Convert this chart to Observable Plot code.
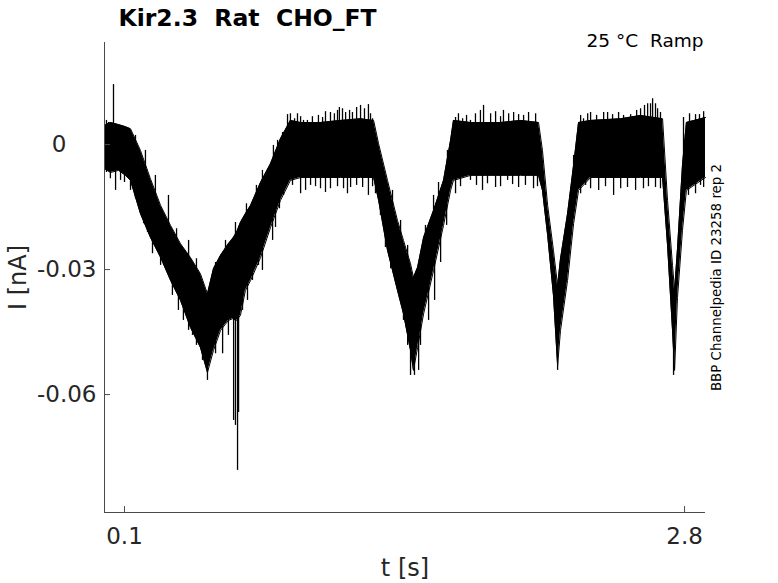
<!DOCTYPE html>
<html>
<head>
<meta charset="utf-8">
<script src="https://cdn.jsdelivr.net/npm/d3@7"></script>
<script src="https://cdn.jsdelivr.net/npm/@observablehq/plot@0.6"></script>
<style>
  html, body { margin: 0; padding: 0; background: #fff; }
  svg text { white-space: pre; }
</style>
</head>
<body>
<div id="chart"></div>
<script>
// ---- data (t in s, I in nA) ----
const bandT = [0.004,0.032,0.071,0.105,0.129,0.177,0.225,0.274,0.322,0.370,0.418,0.466,0.500,0.529,0.563,0.601,0.621,0.640,0.659,0.683,0.708,0.756,0.804,0.852,0.900,0.949,1.045,1.141,1.238,1.301,1.325,1.368,1.416,1.445,1.479,1.493,1.513,1.542,1.590,1.638,1.672,1.686,1.768,1.913,2.009,2.096,2.115,2.140,2.168,2.188,2.202,2.236,2.265,2.289,2.347,2.492,2.588,2.694,2.718,2.742,2.752,2.766,2.790,2.809,2.901];
const bandHi = [0.0046,0.0053,0.0048,0.0043,0.0038,-0.0014,-0.0082,-0.0146,-0.0194,-0.0238,-0.0271,-0.0310,-0.0358,-0.0298,-0.0266,-0.0238,-0.0226,-0.0211,-0.0187,-0.0166,-0.0146,-0.0091,-0.0046,0.0014,0.0058,0.0053,0.0053,0.0058,0.0062,0.0058,0.0002,-0.0086,-0.0182,-0.0230,-0.0286,-0.0319,-0.0295,-0.0223,-0.0158,-0.0086,0.0010,0.0058,0.0053,0.0053,0.0058,0.0053,-0.0014,-0.0146,-0.0254,-0.0338,-0.0274,-0.0166,-0.0050,0.0053,0.0058,0.0062,0.0070,0.0062,-0.0134,-0.0290,-0.0350,-0.0250,-0.0050,0.0053,0.0065];
const bandLo = [-0.0058,-0.0067,-0.0062,-0.0074,-0.0086,-0.0166,-0.0223,-0.0271,-0.0326,-0.0374,-0.0439,-0.0487,-0.0547,-0.0494,-0.0446,-0.0422,-0.0418,-0.0422,-0.0410,-0.0350,-0.0326,-0.0271,-0.0199,-0.0134,-0.0086,-0.0079,-0.0079,-0.0079,-0.0079,-0.0079,-0.0134,-0.0254,-0.0350,-0.0406,-0.0494,-0.0542,-0.0487,-0.0406,-0.0302,-0.0194,-0.0110,-0.0086,-0.0074,-0.0074,-0.0074,-0.0074,-0.0110,-0.0218,-0.0362,-0.0530,-0.0446,-0.0326,-0.0190,-0.0110,-0.0079,-0.0079,-0.0079,-0.0079,-0.0242,-0.0446,-0.0542,-0.0367,-0.0206,-0.0110,-0.0079];

// large noise spikes (tips)
const spikeT = [0.047,0.013,0.900,0.934,0.963,1.006,1.069,1.093,1.127,1.151,1.166,1.199,1.238,1.276,1.296,1.696,1.730,1.768,1.831,1.865,1.913,1.952,2.024,2.082,2.313,2.347,2.429,2.506,2.588,2.622,2.646,2.670,2.795,2.853,2.892,0.688,0.780,0.818,0.862,0.539,1.590,1.653,2.265,
  0.057,0.081,0.153,0.192,0.235,0.298,0.360,0.384,0.428,0.476,0.500,0.539,0.573,0.626,0.635,0.645,0.650,0.669,0.717,0.746,0.790,0.828,0.847,0.867,0.949,0.997,1.045,1.093,1.156,1.190,1.248,1.276,1.310,1.358,1.407,1.445,1.479,1.498,1.527,1.566,1.624,1.696,1.768,1.850,1.947,2.000,2.072,2.188,2.299,2.347,2.458,2.525,2.602,2.660,2.747,2.853,2.892];
const spikeI = [0.0144,0.0058,0.0074,0.0074,0.0058,0.0067,0.0079,0.0077,0.0082,0.0086,0.0077,0.0077,0.0094,0.0096,0.0062,0.0065,0.0062,0.0058,0.0094,0.0074,0.0067,0.0074,0.0070,0.0074,0.0062,0.0077,0.0077,0.0070,0.0086,0.0098,0.0110,0.0086,0.0065,0.0072,0.0079,-0.0142,-0.0079,-0.0002,0.0029,-0.0283,-0.0122,-0.0050,-0.0026,
  -0.0110,-0.0086,-0.0130,-0.0190,-0.0262,-0.0283,-0.0398,-0.0422,-0.0458,-0.0518,-0.0566,-0.0502,-0.0502,-0.0662,-0.0674,-0.0782,-0.0643,-0.0398,-0.0326,-0.0290,-0.0214,-0.0199,-0.0154,-0.0122,-0.0118,-0.0098,-0.0106,-0.0106,-0.0106,-0.0103,-0.0103,-0.0122,-0.0118,-0.0247,-0.0334,-0.0422,-0.0554,-0.0554,-0.0482,-0.0422,-0.0283,-0.0118,-0.0086,-0.0094,-0.0086,-0.0103,-0.0106,-0.0542,-0.0118,-0.0106,-0.0122,-0.0103,-0.0106,-0.0103,-0.0554,-0.0118,-0.0103];

// smaller spikes on the flat plateaus
const flatSpikeT = [0.886,0.920,0.949,0.982,1.035,1.055,1.112,1.136,1.185,1.219,1.257,1.286,
  0.910,0.973,1.021,1.069,1.127,1.175,1.219,1.296,
  1.710,1.749,1.792,1.816,1.889,1.927,1.976,2.000,2.048,
  1.720,1.797,1.826,1.889,1.913,1.971,2.033,2.091,
  2.299,2.333,2.376,2.410,2.453,2.482,2.540,2.569,2.607,2.636,2.660,2.684,
  2.323,2.386,2.419,2.492,2.564,2.626,2.684,
  2.824,2.872,2.819,2.877,
  0.023,0.061,0.086,0.110,0.013,0.032,0.100,0.129];
const flatSpikeI = [0.0072,0.0062,0.0067,0.0058,0.0070,0.0065,0.0074,0.0089,0.0082,0.0089,0.0086,0.0074,
  -0.0098,-0.0110,-0.0101,-0.0115,-0.0101,-0.0118,-0.0098,-0.0101,
  0.0074,0.0070,0.0074,0.0082,0.0079,0.0082,0.0077,0.0072,0.0077,
  -0.0101,-0.0098,-0.0110,-0.0103,-0.0101,-0.0096,-0.0098,-0.0101,
  0.0070,0.0074,0.0070,0.0077,0.0072,0.0077,0.0072,0.0082,0.0094,0.0098,0.0098,0.0077,
  -0.0098,-0.0110,-0.0101,-0.0106,-0.0110,-0.0101,-0.0106,
  0.0074,0.0072,-0.0122,-0.0098,
  0.0053,0.0046,0.0041,0.0031,-0.0067,-0.0082,-0.0091,-0.0110];

// smaller spikes on the ramps
const slopeSpikeT = [0.153,0.201,0.249,0.312,0.351,0.409,0.447,
  0.211,0.274,0.331,0.409,0.447,
  0.587,0.635,0.736,0.765,0.838,
  0.601,0.693,0.765,0.814,
  1.392,1.431,1.465,1.334,1.383,1.431,1.465,
  1.551,1.614,1.657,1.518,1.595,1.653];
const slopeSpikeI = [0.0022,-0.0014,-0.0074,-0.0122,-0.0202,-0.0230,-0.0274,
  -0.0211,-0.0290,-0.0362,-0.0446,-0.0482,
  -0.0230,-0.0187,-0.0098,-0.0062,0.0010,
  -0.0458,-0.0374,-0.0302,-0.0230,
  -0.0110,-0.0182,-0.0242,-0.0170,-0.0298,-0.0374,-0.0482,
  -0.0194,-0.0091,-0.0014,-0.0542,-0.0374,-0.0194];

const xTicks = [0.1, 2.8];
const xTickLabels = ["0.1", "2.8"];
const yTicks = [0, -0.03, -0.06];
const yTickLabels = ["0", "-0.03", "-0.06"];
const xDomain = [0.0036, 2.901];
const yDomain = [-0.0883, 0.0245];

const title = "Kir2.3  Rat  CHO_FT";
const subtitle = "25 °C  Ramp";
const sideNote = "BBP Channelpedia ID 23258 rep 2";
const xLabel = "t [s]";
const yLabel = "I [nA]";

// ---- build tables ----
const band = bandT.map((t, i) => ({t, hi: bandHi[i], lo: bandLo[i]}));
const midAt = (t) => {
  const i = Math.max(1, Math.min(bandT.length - 1, d3.bisectLeft(bandT, t)));
  const a = band[i - 1], b = band[i];
  const f = (t - a.t) / (b.t - a.t);
  return ((a.hi + a.lo) / 2) * (1 - f) + ((b.hi + b.lo) / 2) * f;
};
const toSpikes = (ts, is) => ts.map((t, i) => ({t, tip: is[i], base: midAt(t)}));
const spikes = [
  ...toSpikes(spikeT, spikeI),
  ...toSpikes(flatSpikeT, flatSpikeI),
  ...toSpikes(slopeSpikeT, slopeSpikeI)
];

const ink = "#262626";
const axisCol = "#4a4a4a";
const font = "DejaVu Sans";

const plot = Plot.plot({
  width: 778,
  height: 583,
  marginLeft: 104,
  marginRight: 73,
  marginTop: 42,
  marginBottom: 71,
  style: {fontFamily: font, background: "#fff", color: ink},
  x: {domain: xDomain, axis: null},
  y: {domain: yDomain, axis: null},
  marks: [
    Plot.areaY(band, {x: "t", y1: "lo", y2: "hi", fill: "#000", curve: "linear"}),
    Plot.line(band, {x: "t", y: "hi", stroke: "#000", strokeWidth: 1}),
    Plot.line(band, {x: "t", y: "lo", stroke: "#000", strokeWidth: 1}),
    Plot.ruleX(spikes, {x: "t", y1: "base", y2: "tip", stroke: "#000", strokeWidth: 1.3}),
    // axes lines
    Plot.ruleX([xDomain[0]], {stroke: axisCol, strokeWidth: 1}),
    Plot.ruleY([yDomain[0]], {stroke: axisCol, strokeWidth: 1}),
    // inward ticks
    Plot.axisY({ticks: yTicks, tickSize: 6, dx: 6, tickFormat: () => "", label: null, stroke: axisCol}),
    Plot.axisX({ticks: xTicks, tickSize: 6, dy: -6, tickFormat: () => "", label: null, stroke: axisCol}),
    // tick labels
    Plot.text(yTicks.slice(1), {y: d => d, text: (d, i) => yTickLabels[i + 1], frameAnchor: "left", textAnchor: "end", dx: -8, fontSize: 23, fill: ink}),
    Plot.text([yTicks[0]], {y: d => d, text: () => yTickLabels[0], frameAnchor: "left", textAnchor: "end", dx: -38, fontSize: 23, fill: ink}),
    Plot.text(xTicks, {x: d => d, text: (d, i) => xTickLabels[i], frameAnchor: "bottom", textAnchor: "middle", lineAnchor: "middle", dy: 24, fontSize: 23, fill: ink}),
    // axis labels
    Plot.text([xLabel], {text: d => d, frameAnchor: "bottom", textAnchor: "middle", lineAnchor: "middle", dy: 56, fontSize: 24, fill: ink}),
    Plot.text([yLabel], {text: d => d, frameAnchor: "left", textAnchor: "middle", lineAnchor: "middle", rotate: -90, dx: -86, fontSize: 24, fill: ink}),
    // title & notes
    Plot.text([title], {text: d => d, frameAnchor: "top-left", textAnchor: "start", lineAnchor: "middle", dx: 14, dy: -24, fontSize: 23.5, fontWeight: "bold", fill: "#000"}),
    Plot.text([subtitle], {text: d => d, frameAnchor: "top-right", textAnchor: "end", lineAnchor: "middle", dx: -2, dy: -1, fontSize: 18.5, fill: "#000"}),
    Plot.text([sideNote], {text: d => d, frameAnchor: "right", textAnchor: "middle", lineAnchor: "middle", rotate: -90, dx: 11, fontSize: 13.4, fill: "#000"})
  ]
});
document.getElementById("chart").appendChild(plot);
</script>
</body>
</html>
